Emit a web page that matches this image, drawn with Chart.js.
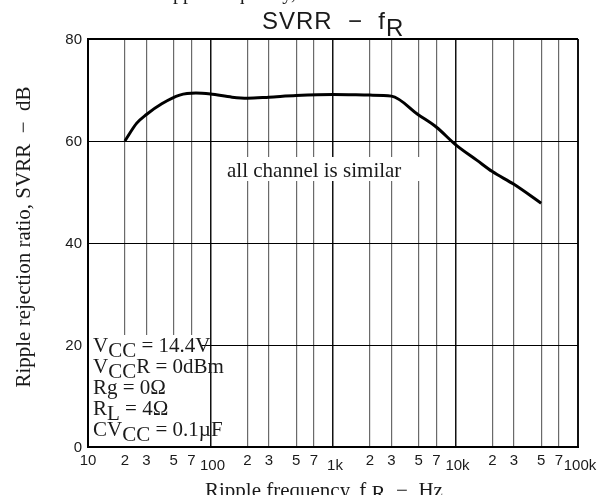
<!DOCTYPE html>
<html>
<head>
<meta charset="utf-8">
<script src="https://cdn.jsdelivr.net/npm/chart.js@4.4.1/dist/chart.umd.min.js"></script>
<style>
  html, body { margin: 0; padding: 0; background: #fff; }
  canvas { display: block; }
</style>
</head>
<body>
<canvas id="chart" width="608" height="495"></canvas>
<script>
// curve
const freqs = [20, 25, 30, 40, 56, 76, 100, 150, 200, 300, 500, 1000, 2000, 3000, 5000, 7000, 10000, 15000, 20000, 30000, 50000];
const svrr = [60, 63.5, 65.2, 67.3, 69.0, 69.4, 69.2, 68.6, 68.4, 68.6, 68.9, 69.1, 69.0, 68.8, 65.1, 62.7, 59.3, 56.2, 54.0, 51.5, 47.8];

const xTicks = [10, 20, 30, 50, 70, 100, 200, 300, 500, 700, 1000, 2000, 3000, 5000, 7000, 10000, 20000, 30000, 50000, 70000, 100000];
const xTickLabels = ['10', '2', '3', '5', '7', '100', '2', '3', '5', '7', '1k', '2', '3', '5', '7', '10k', '2', '3', '5', '7', '100k'];
const yTicks = [0, 20, 40, 60, 80];

const SANS = '"Liberation Sans", Arial, sans-serif';
const SERIF = '"Liberation Serif", "Times New Roman", serif';
const INK = '#1a1a1a';

function isDecade(v) {
    const l = Math.log10(v);
    return Math.abs(l - Math.round(l)) < 1e-9;
}

// draws runs of text, each run can be shifted down (subscript look)
function drawRuns(ctx, x, y, runs, font) {
    ctx.font = font;
    ctx.textAlign = 'left';
    let cx = x;
    runs.forEach(r => {
        ctx.fillText(r[0], cx, y + (r[1] || 0));
        cx += ctx.measureText(r[0]).width;
    });
}

const notes = [
    [['V'], ['CC', 5], [' = 14.4V']],
    [['V'], ['CC', 5], ['R = 0dBm']],
    [['Rg = 0Ω']],
    [['R'], ['L', 5], [' = 4Ω']],
    [['CV'], ['CC', 5], [' = 0.1µF']],
];

const decor = {
    id: 'decor',
    beforeDatasetsDraw(chart) {
        const ctx = chart.ctx;
        const a = chart.chartArea;
        const xs = chart.scales.x;
        ctx.save();
        ctx.fillStyle = '#fff';
        // box behind the conditions text
        ctx.fillRect(a.left + 1, 335, xs.getPixelForValue(85) - a.left - 1, a.bottom - 1 - 335);
        // box behind the note
        ctx.fillRect(214, 157, 206, 24);
        ctx.restore();
    },
    afterDraw(chart) {
        const ctx = chart.ctx;
        const a = chart.chartArea;
        const xs = chart.scales.x;
        const ys = chart.scales.y;
        ctx.save();
        ctx.fillStyle = INK;
        ctx.textBaseline = 'alphabetic';

        // clipped text of the chart above
        ctx.font = '20px ' + SERIF;
        ctx.textAlign = 'right';
        ctx.fillText('Ripple frequency,', 296, -1);

        // title
        ctx.letterSpacing = '1px';
        drawRuns(ctx, 262, 29, [['SVRR  −  f'], ['R', 7]], '24px ' + SANS);
        ctx.letterSpacing = '0px';

        // y tick labels
        ctx.font = '15px ' + SANS;
        ctx.textAlign = 'right';
        ctx.textBaseline = 'middle';
        yTicks.forEach(v => {
            ctx.fillText(String(v), a.left - 6, ys.getPixelForValue(v) + 1);
        });

        // x tick labels, decades sit lower
        ctx.textBaseline = 'alphabetic';
        ctx.textAlign = 'center';
        xTicks.forEach((v, i) => {
            const low = isDecade(v) && v !== 10;
            ctx.fillText(xTickLabels[i], xs.getPixelForValue(v) + (low ? 2 : 0), low ? 470 : 465);
        });

        // axis titles
        ctx.font = '21px ' + SERIF;
        ctx.save();
        ctx.translate(30, 237);
        ctx.rotate(-Math.PI / 2);
        ctx.textAlign = 'center';
        ctx.fillText('Ripple rejection ratio, SVRR  −  dB', 0, 0);
        ctx.restore();

        drawRuns(ctx, 205, 497, [['Ripple frequency, f '], ['R', 3], ['  −  Hz']], '21px ' + SERIF);

        // note inside the plot
        ctx.font = '21px ' + SERIF;
        ctx.textAlign = 'left';
        ctx.fillText('all channel is similar', 227, 177);

        // conditions
        notes.forEach((line, i) => {
            drawRuns(ctx, 93, 352 + i * 21, line, '21px ' + SERIF);
        });
        ctx.restore();
    }
};

new Chart(document.getElementById('chart'), {
    type: 'line',
    data: {
        datasets: [{
            data: freqs.map((f, i) => ({ x: f, y: svrr[i] })),
            borderColor: '#000',
            borderWidth: 3,
            pointRadius: 0,
            cubicInterpolationMode: 'monotone',
            fill: false
        }]
    },
    options: {
        responsive: false,
        animation: false,
        devicePixelRatio: 1,
        layout: { padding: { top: 39, right: 30, left: 0, bottom: 0 } },
        plugins: { legend: { display: false }, tooltip: { enabled: false } },
        scales: {
            x: {
                type: 'logarithmic',
                min: 10,
                max: 100000,
                afterBuildTicks: s => { s.ticks = xTicks.map(v => ({ value: v })); },
                afterFit: s => { s.height = 48; },
                ticks: { display: false },
                border: { display: true, color: '#000', width: 2 },
                grid: {
                    drawTicks: false,
                    color: c => isDecade(c.tick.value) ? '#111' : '#6a6a6a',
                    lineWidth: c => (c.tick.value === 10 || c.tick.value === 100000) ? 2 : (isDecade(c.tick.value) ? 1.5 : 1.2)
                }
            },
            y: {
                min: 0,
                max: 80,
                afterBuildTicks: s => { s.ticks = yTicks.map(v => ({ value: v })); },
                afterFit: s => { s.width = 88; },
                ticks: { display: false },
                border: { display: true, color: '#000', width: 2 },
                grid: {
                    drawTicks: false,
                    color: '#000',
                    lineWidth: c => (c.tick.value === 0 || c.tick.value === 80) ? 2 : 1
                }
            }
        }
    },
    plugins: [decor]
});
</script>
</body>
</html>
